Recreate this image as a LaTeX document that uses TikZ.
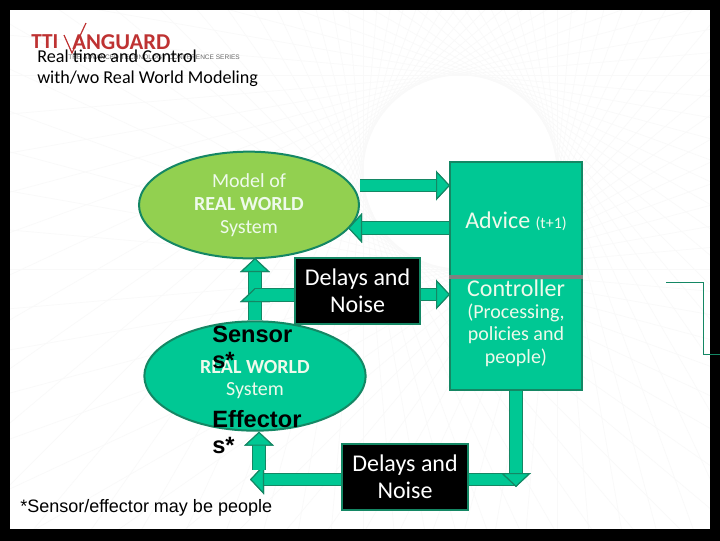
\documentclass[tikz,border=0pt]{standalone}
\usepackage{fontspec}
\setmainfont{Carlito}
\newfontfamily\arialfont{Liberation Sans}
\usetikzlibrary{arrows.meta,backgrounds,positioning,shapes.geometric}
\pgfdeclarelayer{pagelayer}
\pgfsetlayers{pagelayer,background,main}
\definecolor{seagreen}{RGB}{0,200,148}
\definecolor{edgegreen}{RGB}{20,135,100}
\definecolor{modelgreen}{RGB}{146,208,80}
\definecolor{palewhite}{RGB}{238,250,235}
\definecolor{logored}{RGB}{190,50,50}
\newcommand{\pxfont}[2]{\fontsize{#1}{#2}\selectfont}
\tikzset{x=0.75pt,y=-0.75pt}
\tikzset{world state/.style={draw=edgegreen,line width=1.5pt,ellipse,inner sep=0pt,align=center,text=palewhite}}
\tikzset{noise box/.style={draw=edgegreen,line width=1.5pt,fill=black,text=white,align=center,inner sep=0pt,minimum width=94pt,minimum height=49pt,font=\pxfont{18}{20}}}
\tikzset{block arrow/.style={line width=8.5pt,draw=seagreen,-{Triangle[length=10.5pt,width=22pt,fill=seagreen,color=edgegreen,line width=.8pt]},
    preaction={draw=edgegreen,line width=10pt,-{Triangle[length=10.5pt,width=22pt]}}}}
\tikzset{block line/.style={line width=8.5pt,draw=seagreen,preaction={draw=edgegreen,line width=10pt}}}
\tikzset{sensor text/.style={font=\arialfont\bfseries\pxfont{17.7}{19.5},anchor=north west,align=left,inner sep=0pt}}
\begin{document}
\begin{tikzpicture}
    \useasboundingbox (0,0) rectangle (720,540);
    \begin{pgfonlayer}{pagelayer}
        \fill[black] (0,0) rectangle (720,540);
        \fill[white] (10,10) rectangle (710,529);
        % pale fan of lines round the empty circle
        \begin{scope}[shift={(460,172)}]
            \foreach \a in {0,5,...,355} {
                \draw[black!2.5,line width=.5pt] (\a:97) -- ++(\a+90:800);
                \draw[black!2.5,line width=.5pt] (\a:97) -- ++(\a-90:800);
            }
        \end{scope}
        \fill[black] (710,0) rectangle (1800,540);
        \fill[black] (-900,529) rectangle (1800,1400);
        \fill[black] (-900,-900) rectangle (1800,10);
        \fill[black] (-900,-900) rectangle (10,1400);
    \end{pgfonlayer}
    % logo and title
    \node[font=\bfseries\pxfont{16}{20},text=logored,anchor=west,inner sep=0pt] (tti) at (31,42) {TTI};
    \node[font=\bfseries\pxfont{17}{20},text=logored,anchor=west,inner sep=0pt] (guard) at (72,42) {ANGUARD};
    \draw[logored,line width=.9pt] (64,35) -- (72,53) -- (86,23);
    \node[font=\arialfont\pxfont{4.9}{5},text=black!60,anchor=west,inner sep=0pt] (series) at (68,57) {THE ADVANCED TECHNOLOGY CONFERENCE SERIES};
    \node[font=\pxfont{13.6}{15.5},anchor=north west,align=left,inner sep=0pt] (title) at (37,50) {Real time and Control\\with/wo Real World Modeling};
    % main shapes
    \node[world state,fill=modelgreen,minimum width=165pt,minimum height=80pt,font=\pxfont{15}{17}] (model) at (249,205) {Model of\\\textbf{REAL WORLD}\\System};
    \node[world state,fill=seagreen,minimum width=166pt,minimum height=82pt,font=\pxfont{15}{17}] (real) at (255,376) {\\[-2pt]\textbf{REAL WORLD}\\System};
    \node[draw=edgegreen,line width=1.5pt,fill=seagreen,minimum width=99pt,minimum height=171pt,inner sep=0pt] (ctrl) at (516,276) {};
    \node[text=palewhite,font=\pxfont{18}{20},inner sep=0pt] (advice) at (516,221) {Advice {\pxfont{12}{13}(t+1)}};
    \node[text=palewhite,align=center,inner sep=0pt,font=\pxfont{18}{20}] (ctrllabel) at (516,288) {Controller};
    \node[text=palewhite,align=center,inner sep=0pt,font=\pxfont{15}{17}] (ctrltext) at (516,335) {(Processing,\\policies and\\people)};
    \draw[black!50,line width=3pt] (ctrl.west |- 0,277) coordinate (splitl) -- (ctrl.east |- 0,277) coordinate (splitr);
    \node[noise box] (delayup) at (357.5,291) {Delays and\\Noise};
    \node[noise box] (delaydown) at (405,477) {Delays and\\Noise};
    \node[sensor text] (sensor) at (212,326) {Sensor\\s*};
    \node[sensor text] (effector) at (212,410) {Effector\\s*};
    \node[font=\arialfont\pxfont{13.5}{16},anchor=west,inner sep=0pt] (footnote) at (20,508) {*Sensor/effector may be people};
    % named ends of the block arrows
    \coordinate (advin) at (450,185.5);
    \coordinate (advout) at (450,228);
    \coordinate (noisein) at (450,294.5);
    \coordinate (upx) at (255,258);
    \coordinate (upjoin) at (255,295);
    \coordinate (downx) at (516,391);
    \coordinate (corner) at (516,479.5);
    \coordinate (leftturn) at (259,470);
    \begin{scope}[on background layer]
        \draw[block arrow] (upx |- real.north) -- (upx);
        \draw[block arrow] (upx |- 0,303) -- (upx |- 0,288);
        \draw[block line] (delayup.west |- upjoin) -- (upjoin);
        \draw[block arrow] (model.east |- advin) -- (advin);
        \draw[block arrow] (ctrl.west |- advout) -- (348,228);
        \draw[block arrow] (delayup.east |- noisein) -- (noisein);
        \draw[block line] (delaydown.east |- corner) -- (corner);
        \draw[block arrow] (ctrl.south -| downx) -- (516,487);
        \draw[block arrow] (delaydown.west |- corner) -- (250,479.5);
        \draw[block arrow] (leftturn) -- (leftturn |- real.south);
    \end{scope}
    % stray connector at the right edge
    \coordinate (straya) at (666,282);
    \coordinate (strayb) at (703,282);
    \coordinate (strayc) at (703,354);
    \coordinate (strayd) at (720,354);
    \draw[edgegreen,line width=.7pt] (straya) -- (strayb) -- (strayc) -- (strayd);
\end{tikzpicture}
\end{document}
